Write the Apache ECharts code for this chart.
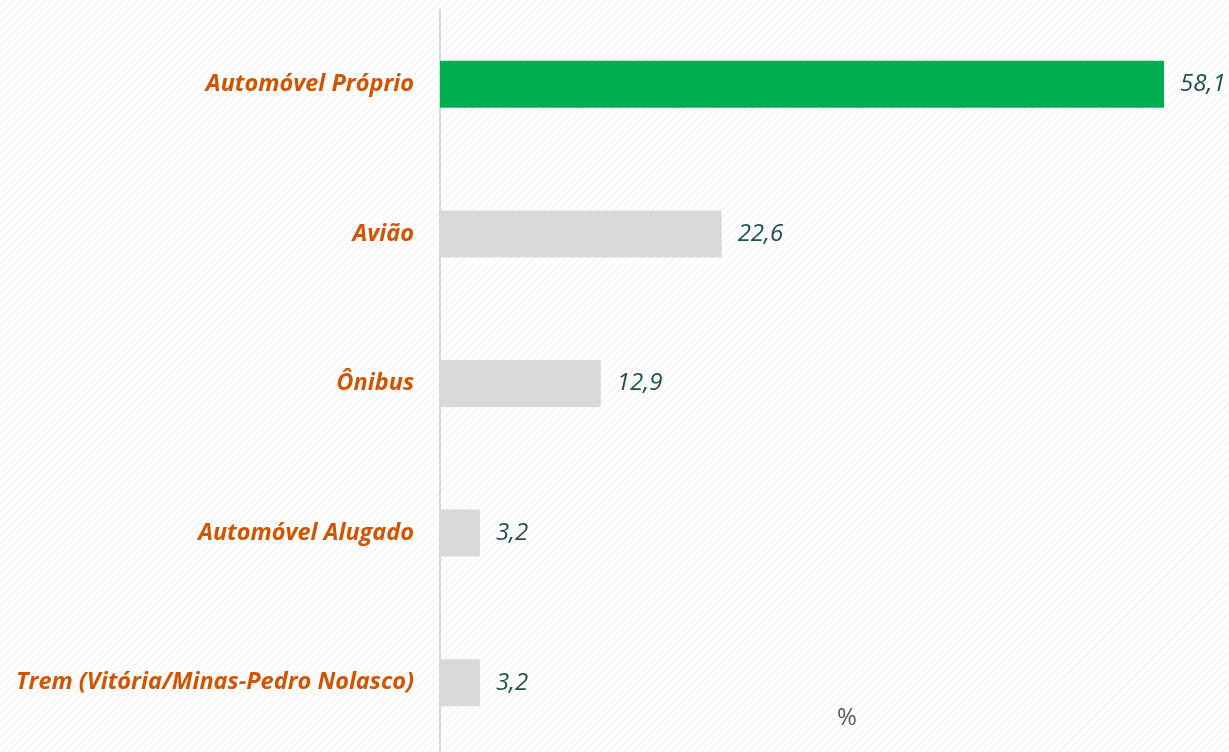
<!DOCTYPE html>
<html><head><meta charset="utf-8">
<script src="https://cdn.jsdelivr.net/npm/echarts@6/dist/echarts.min.js"></script>
<style>
html,body{margin:0;padding:0;background:#fff;}
#c{width:1229px;height:752px;background:repeating-linear-gradient(-45deg,#ffffff 0px,#ffffff 4px,#f5f5f5 4px,#f5f5f5 5.5px);}
</style></head>
<body><div id="c"></div>
<script>
const categories = ['Automóvel Próprio','Avião','Ônibus','Automóvel Alugado','Trem (Vitória/Minas-Pedro Nolasco)'];
const values = [58.1, 22.6, 12.9, 3.2, 3.2];
const unitLabel = '%';

const chart = echarts.init(document.getElementById('c'), null, {renderer:'canvas'});
const fontFam = '"Open Sans", sans-serif';
chart.setOption({
  animation:false,
  grid:{left:440, top:9.5, width:747.7, height:748, containLabel:false, outerBoundsMode:'none'},
  xAxis:{type:'value', min:0, max:60, show:false},
  yAxis:{type:'category', data:categories, inverse:true,
    axisLine:{show:true, lineStyle:{color:'#d9d9d9', width:2}},
    axisTick:{show:false},
    axisLabel:{margin:26, color:'#D35400', fontFamily:fontFam, fontSize:23.5, fontWeight:'bold', fontStyle:'italic'}
  },
  series:[{
    type:'bar', barWidth:47,
    data: values.map((v,i)=>({value:v, itemStyle:{color: i===0 ? '#00B050' : '#D9D9D9'}})),
    label:{show:true, position:'right', distance:16, color:'#1F4F4F', fontFamily:fontFam, fontSize:24, fontStyle:'italic',
      formatter:p=>p.value.toFixed(1).replace('.',',')}
  }],
  graphic:[{type:'text', left:837, top:706, style:{text:unitLabel, fill:'#595959', font:'24px '+fontFam}}]
});
</script></body></html>
